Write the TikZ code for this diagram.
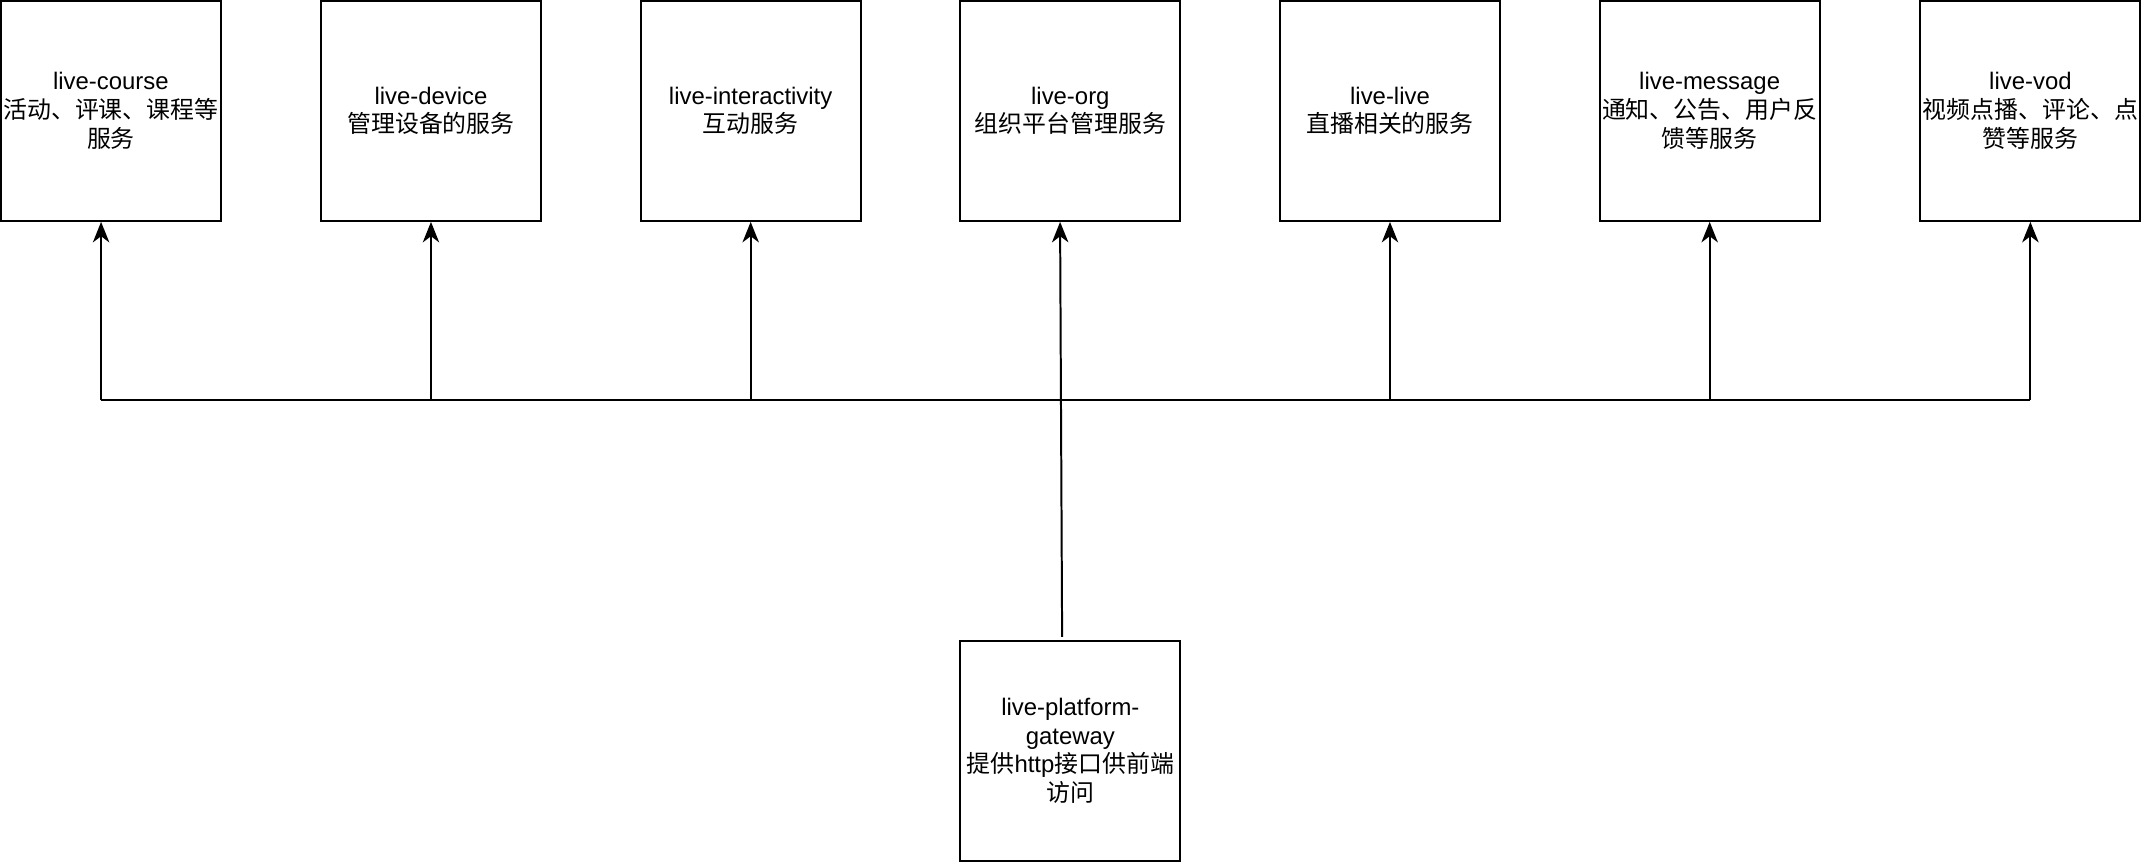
\documentclass[tikz,border=0pt]{standalone}
\usepackage{fontspec}
\setmainfont{Liberation Sans}
\newfontfamily\cjk{Noto Sans CJK SC}
\usetikzlibrary{arrows.meta,calc}
\begin{document}
\begin{tikzpicture}[x=1pt,y=-1pt,
  svcbox/.style={draw=black,line width=1.45pt,fill=white,minimum width=161pt,minimum height=161pt,
    inner sep=0pt,align=center,font=\fontsize{17.5}{21}\selectfont},
  conn/.style={draw=black,line width=1.45pt},
  arr/.style={conn,-{Stealth[length=15pt,width=12pt,inset=4.5pt]}}]
\useasboundingbox (0,0) rectangle (1568,631);
\node[svcbox] (c1) at (81.2,81.2) {live-course\\{\cjk 活动、评课、课程等}\\{\cjk 服务}};
\node[svcbox] (c2) at (315.5,81.2) {live-device\\{\cjk 管理设备的服务}};
\node[svcbox] (c3) at (549.5,81.2) {live-interactivity\\{\cjk 互动服务}};
\node[svcbox] (c4) at (783.5,81.2) {live-org\\{\cjk 组织平台管理服务}};
\node[svcbox] (c5) at (1017.5,81.2) {live-live\\{\cjk 直播相关的服务}};
\node[svcbox] (c6) at (1251.5,81.2) {live-message\\{\cjk 通知、公告、用户反}\\{\cjk 馈等服务}};
\node[svcbox] (c7) at (1486.3,81.2) {live-vod\\{\cjk 视频点播、评论、点}\\{\cjk 赞等服务}};
\node[svcbox] (gw) at (783.5,549.5) {live-platform-\\gateway\\{\cjk 提供}http{\cjk 接口供前端}\\{\cjk 访问}};
\coordinate (busL) at (74,293);
\coordinate (busR) at (1486.3,293);
\coordinate (gwtop) at ($(gw.north)+(-6,-2)$);
\coordinate (c4in) at ($(c4.south)+(-7.5,0)$);
\draw[conn] (busL) -- (busR);
\draw[arr] (gwtop) -- (c4in);
\draw[arr] (busL) -- (c1.south -| busL);
\draw[arr] (c2.south |- busL) -- (c2.south);
\draw[arr] (c3.south |- busL) -- (c3.south);
\draw[arr] (c5.south |- busL) -- (c5.south);
\draw[arr] (c6.south |- busL) -- (c6.south);
\draw[arr] (busR) -- (c7.south);
\end{tikzpicture}
\end{document}
